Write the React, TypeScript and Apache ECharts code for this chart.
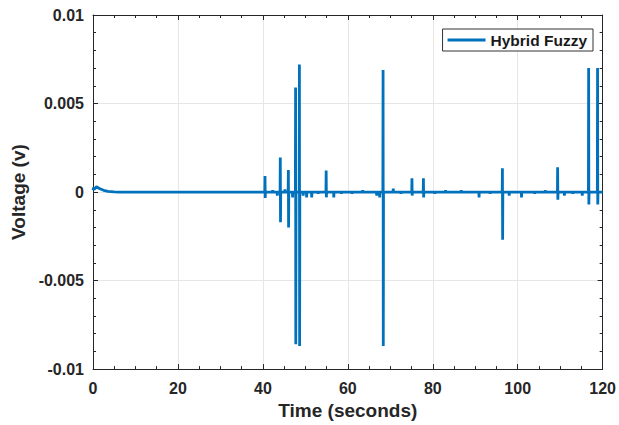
import React, { useEffect, useRef } from "react";
import * as echarts from "echarts";

const startTimes = [0, 0.15, 0.3, 0.8, 1.5, 2.5, 3.5, 5, 6];
const startValues = [0.0001, 0.00025, 0.00015, 0.0003, 0.0002, 0.0001, 0.00004, 0.00001, 0];

const spikeTimes = [40.5, 44.1, 46.0, 47.7, 48.6, 54.9, 68.3, 75.1, 77.8, 96.4, 109.4, 116.7, 118.8];
const spikeHighs = [0.0009, 0.00195, 0.00125, 0.0059, 0.0072, 0.00122, 0.0069, 0.00078, 0.00078, 0.00134, 0.0014, 0.007, 0.007];
const spikeLows = [-0.00034, -0.0017, -0.002, -0.0086, -0.0087, -0.0003, -0.0087, -0.0002, -0.0003, -0.0027, -0.00043, -0.0007, -0.0007];

const rippleTimes = [42.3, 43.4, 45.2, 47.0, 49.5, 50.3, 51.5, 53.0, 56.7, 58.5, 61, 63.5, 66.8, 67.5, 70.7, 72.5, 80.5, 83, 86.7, 90.9, 93.5, 98, 100.9, 104, 106.5, 111, 113, 115.2];
const rippleValues = [0.0001, -0.0002, 0.00015, -0.0003, -0.0002, -0.0003, -0.0003, -0.0001, -0.0003, -0.0001, -0.0001, 0.0001, -0.0002, -0.0003, 0.0002, -0.0001, -0.0001, 0.0001, 0.0001, -0.0003, -0.0001, -0.0002, -0.0003, -0.0001, 0.0001, -0.0002, -0.0001, -0.0002];

const xTicks = [0, 20, 40, 60, 80, 100, 120];
const yTickLabels: Record<string, string> = {
  "0.01": "0.01",
  "0.005": "0.005",
  "0": "0",
  "-0.005": "-0.005",
  "-0.01": "-0.01",
};

const seriesName = "Hybrid Fuzzy";
const endTime = 120;

function buildData(): [number, number][] {
  const events: { t: number; pts: [number, number][] }[] = [];
  spikeTimes.forEach((t, i) => {
    events.push({
      t,
      pts: [
        [t - 0.05, 0],
        [t, spikeHighs[i]],
        [t + 0.05, spikeLows[i]],
        [t + 0.1, 0],
      ],
    });
  });
  rippleTimes.forEach((t, i) => {
    events.push({
      t,
      pts: [
        [t - 0.05, 0],
        [t, rippleValues[i]],
        [t + 0.05, 0],
      ],
    });
  });
  events.sort((a, b) => a.t - b.t);
  const data: [number, number][] = startTimes.map((t, i) => [t, startValues[i]]);
  events.forEach((e) => e.pts.forEach((p) => data.push(p)));
  data.push([endTime, 0]);
  return data;
}

const FONT = "Liberation Sans";
const AXIS_COLOR = "#262626";

export default function App() {
  const ref = useRef<HTMLDivElement>(null);
  useEffect(() => {
    if (!ref.current) return;
    const chart = echarts.init(ref.current, undefined, { renderer: "svg" });
    const tickStyle = { show: true, inside: true, length: 5, lineStyle: { color: AXIS_COLOR, width: 1 } };
    const minorTickStyle = { show: true, length: 3, lineStyle: { color: AXIS_COLOR, width: 1 } };
    const labelStyle = { fontFamily: FONT, fontWeight: "bold" as const, fontSize: 16, color: "#262626" };
    chart.setOption({
      animation: false,
      backgroundColor: "#ffffff",
      grid: { left: 93, right: 14, top: 15, bottom: 53, containLabel: false },
      legend: {
        data: [{ name: seriesName, icon: "rect" }],
        right: 26,
        top: 29,
        itemWidth: 38,
        itemHeight: 3,
        itemGap: 4,
        backgroundColor: "#ffffff",
        borderColor: "#333333",
        borderWidth: 1,
        borderRadius: 0,
        padding: [3, 6, 3, 5],
        textStyle: { fontFamily: FONT, fontWeight: "bold", fontSize: 15.5, color: "#1a1a1a" },
      },
      xAxis: [
        {
          type: "value",
          min: 0,
          max: 120,
          interval: 20,
          name: "Time (seconds)",
          nameLocation: "middle",
          nameGap: 31,
          nameTextStyle: { fontFamily: FONT, fontWeight: "bold", fontSize: 19, color: "#262626" },
          axisLine: { show: true, onZero: false, lineStyle: { color: AXIS_COLOR, width: 1 } },
          axisTick: tickStyle,
          minorTick: { ...minorTickStyle, splitNumber: 4 },
          axisLabel: { ...labelStyle, margin: 11, formatter: (v: number) => (xTicks.includes(v) ? String(v) : "") },
          splitLine: { show: true, lineStyle: { color: "#e6e6e6", width: 1 } },
          minorSplitLine: { show: false },
        },
        {
          type: "value",
          position: "top",
          min: 0,
          max: 120,
          interval: 20,
          axisLine: { show: true, onZero: false, lineStyle: { color: AXIS_COLOR, width: 1 } },
          axisTick: tickStyle,
          minorTick: { ...minorTickStyle, splitNumber: 4 },
          axisLabel: { show: false },
          splitLine: { show: false },
        },
      ],
      yAxis: [
        {
          type: "value",
          min: -0.01,
          max: 0.01,
          interval: 0.005,
          name: "Voltage (v)",
          nameLocation: "middle",
          nameGap: 62,
          nameTextStyle: { fontFamily: FONT, fontWeight: "bold", fontSize: 19, color: "#262626" },
          axisLine: { show: true, onZero: false, lineStyle: { color: AXIS_COLOR, width: 1 } },
          axisTick: tickStyle,
          minorTick: { ...minorTickStyle, splitNumber: 5 },
          axisLabel: {
            ...labelStyle,
            margin: 9,
            formatter: (v: number) => {
              const k = String(Math.round(v * 1000) / 1000);
              return yTickLabels[k] ?? k;
            },
          },
          splitLine: { show: true, lineStyle: { color: "#e6e6e6", width: 1 } },
        },
        {
          type: "value",
          position: "right",
          min: -0.01,
          max: 0.01,
          interval: 0.005,
          axisLine: { show: true, onZero: false, lineStyle: { color: AXIS_COLOR, width: 1 } },
          axisTick: tickStyle,
          minorTick: { ...minorTickStyle, splitNumber: 5 },
          axisLabel: { show: false },
          splitLine: { show: false },
        },
      ],
      series: [
        {
          name: seriesName,
          type: "line",
          data: buildData(),
          showSymbol: false,
          symbol: "none",
          color: "#0072BD",
          lineStyle: { color: "#0072BD", width: 2.8 },
          clip: true,
        },
      ],
    });
    return () => chart.dispose();
  }, []);
  return <div ref={ref} style={{ width: 619, height: 425, position: "absolute", left: 0, top: 0 }} />;
}
